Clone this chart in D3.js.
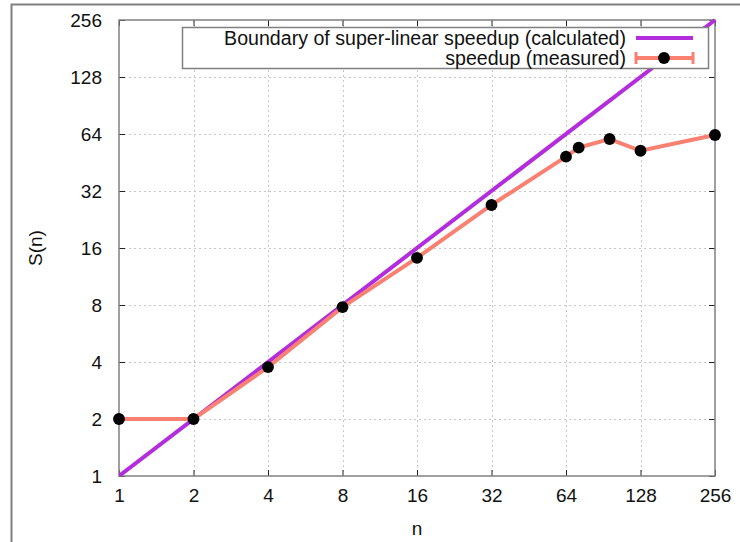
<!DOCTYPE html>
<html>
<head>
<script src="https://cdnjs.cloudflare.com/ajax/libs/d3/7.8.5/d3.min.js"></script>
<style>
  body { margin: 0; background: #fff; }
  text { font-family: "Liberation Sans", Arial, sans-serif; fill: #111; }
</style>
</head>
<body>
<div id="chart"></div>
<script>
// data
var tickVals = [1, 2, 4, 8, 16, 32, 64, 128, 256];
var boundaryN = [1, 256];
var measuredN = [1, 2, 4, 8, 16, 32, 64, 72, 96, 128, 256];
var measuredS = [2, 2, 3.76, 7.8, 14.2, 27, 48.6, 54.2, 60.2, 52.2, 63.2];

var W = 740, H = 542;
var pL = 119, pR = 715, pT = 20, pB = 476;
var fs = "19px";

var svg = d3.select("#chart").append("svg")
  .attr("width", W).attr("height", H);

// outer frame (left + top only visible)
svg.append("path")
  .attr("d", "M11.5," + H + "V4.5H" + W)
  .attr("fill", "none").attr("stroke", "#808080").attr("stroke-width", 2);

var x = d3.scaleLog().base(2).domain([1, 256]).range([pL, pR]);
var y = d3.scaleLog().base(2).domain([1, 256]).range([pB, pT]);

// grid
var grid = svg.append("g");
tickVals.slice(1, -1).forEach(function(v) {
  grid.append("line")
    .attr("x1", Math.round(x(v)) + 0.5).attr("x2", Math.round(x(v)) + 0.5)
    .attr("y1", pT).attr("y2", pB)
    .attr("stroke", "#c8c8c8").attr("stroke-dasharray", "2,3");
  grid.append("line")
    .attr("y1", Math.round(y(v)) + 0.5).attr("y2", Math.round(y(v)) + 0.5)
    .attr("x1", pL).attr("x2", pR)
    .attr("stroke", "#c8c8c8").attr("stroke-dasharray", "2,3");
});

// axes
var fmt = d3.format("d");
var xAxis = svg.append("g").attr("transform", "translate(0," + pB + ")")
  .call(d3.axisBottom(x).tickValues(tickVals).tickFormat(fmt).tickSize(-6).tickPadding(13));
var xTop = svg.append("g").attr("transform", "translate(0," + pT + ")")
  .call(d3.axisTop(x).tickValues(tickVals).tickFormat("").tickSize(-6));
var yAxis = svg.append("g").attr("transform", "translate(" + pL + ",0)")
  .call(d3.axisLeft(y).tickValues(tickVals).tickFormat(fmt).tickSize(-6).tickPadding(17));
var yRight = svg.append("g").attr("transform", "translate(" + pR + ",0)")
  .call(d3.axisRight(y).tickValues(tickVals).tickFormat("").tickSize(-6));

[xAxis, xTop, yAxis, yRight].forEach(function(g) {
  g.select(".domain").remove();
  g.selectAll(".tick line").attr("stroke", "#222");
  g.selectAll("text").style("font-size", fs).attr("fill", "#111")
    .style("font-family", "'Liberation Sans', Arial, sans-serif");
});

svg.append("rect")
  .attr("x", pL).attr("y", pT)
  .attr("width", pR - pL).attr("height", pB - pT)
  .attr("fill", "none").attr("stroke", "#808080").attr("stroke-width", 1.5);

// axis labels
svg.append("text").attr("x", 417).attr("y", 535)
  .attr("text-anchor", "middle").style("font-size", fs).text("n");
svg.append("text")
  .attr("transform", "translate(42," + ((pT + pB) / 2) + ") rotate(-90)")
  .attr("text-anchor", "middle").style("font-size", fs).text("S(n)");

// clip
svg.append("clipPath").attr("id", "clip").append("rect")
  .attr("x", pL).attr("y", pT - 2).attr("width", pR - pL + 2).attr("height", pB - pT + 2);

var line = d3.line().x(function(d) { return x(d[0]); }).y(function(d) { return y(d[1]); });

svg.append("path")
  .datum(boundaryN.map(function(n) { return [n, n]; }))
  .attr("clip-path", "url(#clip)")
  .attr("d", line).attr("fill", "none")
  .attr("stroke", "#b42ddc").attr("stroke-width", 4);

var measured = measuredN.map(function(n, i) { return [n, measuredS[i]]; });
svg.append("path")
  .datum(measured)
  .attr("d", line).attr("fill", "none")
  .attr("stroke", "#fa8072").attr("stroke-width", 4);

var sym = d3.symbol().type(d3.symbolCircle).size(110);
svg.selectAll(".pt").data(measured).enter().append("path")
  .attr("class", "pt")
  .attr("transform", function(d) { return "translate(" + x(d[0]) + "," + y(d[1]) + ")"; })
  .attr("d", sym).attr("fill", "#000");

// legend
var lg = svg.append("g");
lg.append("rect").attr("x", 182.5).attr("y", 27.5).attr("width", 526).attr("height", 41)
  .attr("fill", "#fff").attr("stroke", "#808080").attr("stroke-width", 1.5);
lg.append("text").attr("x", 626).attr("y", 45).attr("text-anchor", "end")
  .style("font-size", "19.6px").text("Boundary of super-linear speedup (calculated)");
lg.append("text").attr("x", 626).attr("y", 65).attr("text-anchor", "end")
  .style("font-size", "19.6px").text("speedup (measured)");
lg.append("line").attr("x1", 636).attr("x2", 693).attr("y1", 38).attr("y2", 38)
  .attr("stroke", "#b42ddc").attr("stroke-width", 4);
lg.append("line").attr("x1", 636).attr("x2", 693).attr("y1", 58).attr("y2", 58)
  .attr("stroke", "#fa8072").attr("stroke-width", 4);
[636, 693].forEach(function(xx) {
  lg.append("line").attr("x1", xx).attr("x2", xx).attr("y1", 52).attr("y2", 64)
    .attr("stroke", "#fa8072").attr("stroke-width", 3);
});
lg.append("path").attr("transform", "translate(664,58)").attr("d", sym).attr("fill", "#000");
</script>
</body>
</html>
